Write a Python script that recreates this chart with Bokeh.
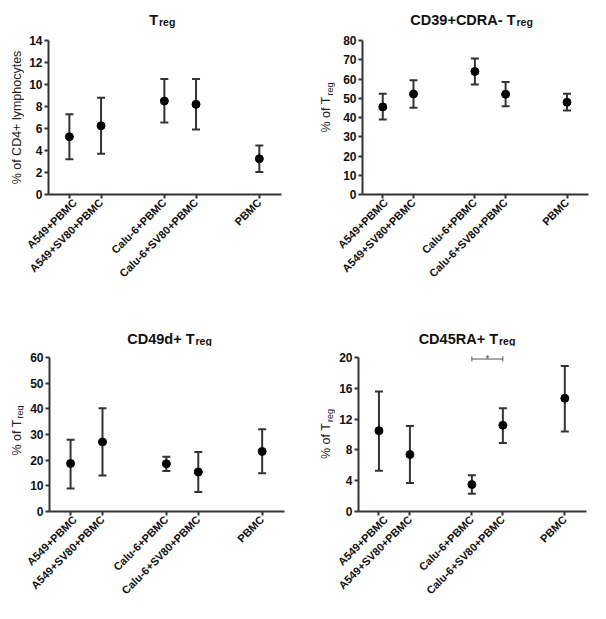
import math
from bokeh.plotting import figure
from bokeh.layouts import row, column
from bokeh.models import Range1d, FixedTicker, Whisker, TeeHead, ColumnDataSource
from bokeh.core.properties import value
from bokeh.embed import file_html
from bokeh.resources import INLINE

# ---------------- data ----------------
categories = ["A549+PBMC", "A549+SV80+PBMC", "Calu-6+PBMC", "Calu-6+SV80+PBMC", "PBMC"]
x_positions = [0, 1, 3, 4, 6]

treg_mean = [5.25, 6.25, 8.5, 8.2, 3.25]
treg_upper = [7.3, 8.8, 10.5, 10.5, 4.45]
treg_lower = [3.2, 3.7, 6.55, 5.9, 2.05]
treg_yticks = [0, 2, 4, 6, 8, 10, 12, 14]

cd39_mean = [45.5, 52.2, 63.9, 52.1, 47.9]
cd39_upper = [52.3, 59.4, 70.7, 58.4, 52.4]
cd39_lower = [38.9, 45.1, 57.2, 45.9, 43.7]
cd39_yticks = [0, 10, 20, 30, 40, 50, 60, 70, 80]

cd49d_mean = [18.7, 27.1, 18.6, 15.4, 23.4]
cd49d_upper = [28.0, 40.2, 21.3, 23.2, 32.0]
cd49d_lower = [9.0, 14.0, 15.8, 7.6, 14.9]
cd49d_yticks = [0, 10, 20, 30, 40, 50, 60]

cd45_mean = [10.5, 7.4, 3.5, 11.2, 14.7]
cd45_upper = [15.6, 11.1, 4.7, 13.4, 18.9]
cd45_lower = [5.3, 3.7, 2.3, 8.9, 10.4]
cd45_yticks = [0, 4, 8, 12, 16, 20]

sig_pair = [3, 4]          # Calu-6+PBMC vs Calu-6+SV80+PBMC
sig_level = 19.8
sig_text = "*"

FONT = "Liberation Sans"
AX = "#333333"
TXT = "#111111"


def blank(width, height, y_range=None, top=0, bottom=0):
    f = figure(width=width, height=height, output_backend="svg", toolbar_location=None,
               x_range=Range1d(0, width),
               y_range=y_range if y_range is not None else Range1d(0, height),
               x_axis_location=None, y_axis_location=None, min_border=0,
               min_border_top=top, min_border_bottom=bottom, title=None)
    f.outline_line_color = None
    f.grid.visible = False
    f.background_fill_color = "white"
    f.border_fill_color = "white"
    return f


def panel(cfg, mean, upper, lower, yticks, y_top=None):
    W, H, T, L = cfg["W"], cfg["H"], cfg["T"], cfg["L"]
    left, right, top, bottom = cfg["left"], cfg["right"], cfg["top"], cfg["bottom"]
    x0, x1 = -0.66, 6.7
    ytop = y_top if y_top is not None else yticks[-1]
    bodyH = H - T
    p = figure(width=W - L, height=bodyH, output_backend="svg", toolbar_location=None,
               x_range=Range1d(x0, x1), y_range=Range1d(yticks[0], ytop),
               min_border_left=left, min_border_right=right,
               min_border_top=top, min_border_bottom=bottom, title=None)
    p.outline_line_color = None
    p.grid.visible = False
    p.background_fill_color = "white"
    p.border_fill_color = "white"

    src = ColumnDataSource(dict(x=x_positions, mean=mean, upper=upper, lower=lower))
    p.add_layout(Whisker(source=src, base="x", upper="upper", lower="lower", dimension="height",
                         line_color=AX, line_width=2,
                         upper_head=TeeHead(size=8, line_color=AX, line_width=2),
                         lower_head=TeeHead(size=8, line_color=AX, line_width=2)))
    p.scatter("x", "mean", source=src, size=8, color="black")

    p.xaxis.ticker = FixedTicker(ticks=x_positions)
    p.xaxis.major_label_overrides = {x: c for x, c in zip(x_positions, categories)}
    p.xaxis.major_label_orientation = math.pi / 4
    p.xaxis.major_label_text_font_size = "11px"
    p.xaxis.major_label_standoff = 2
    p.yaxis.ticker = FixedTicker(ticks=yticks)
    p.yaxis.bounds = (yticks[0], yticks[-1])
    p.yaxis.major_label_text_font_size = "12px"
    p.yaxis.major_label_standoff = 2
    for ax in (p.xaxis[0], p.yaxis[0]):
        ax.axis_line_color = AX
        ax.axis_line_width = 2
        ax.major_tick_line_color = AX
        ax.major_tick_line_width = 2
        ax.major_tick_out = 4
        ax.major_tick_in = 0
        ax.minor_tick_out = 0
        ax.minor_tick_in = 0
        ax.major_label_text_font = FONT
        ax.major_label_text_font_style = "bold"
        ax.major_label_text_color = TXT

    # ---- title strip (main text + subscript) ----
    t = blank(W, T)
    frame_w = W - L - left - right
    split = L + left + frame_w / 2 + cfg["title_split"]
    t.text(x=[split], y=[cfg["title_base"]], text=[cfg["title"]],
           text_font=value(FONT), text_font_style="bold", text_font_size="14.5px",
           text_align="right", text_baseline="alphabetic", text_color=TXT)
    t.text(x=[split + 1], y=[cfg["title_base"] - 2.5], text=[cfg["title_sub"]],
           text_font=value(FONT), text_font_style="bold", text_font_size="10.5px",
           text_align="left", text_baseline="alphabetic", text_color=TXT)

    # ---- y label strip (rotated), sharing the panel's y range ----
    yl = blank(L, bodyH, y_range=p.y_range, top=top, bottom=bottom)
    frame_h = bodyH - top - bottom
    upp = (ytop - yticks[0]) / frame_h
    yc = (yticks[0] + yticks[-1]) / 2
    if cfg["ylab_sub"]:
        ys = yc + cfg["ylab_split"] * upp
        yl.text(x=[cfg["ylab_x"]], y=[ys], text=[cfg["ylab"]], angle=math.pi / 2,
                text_font=value(FONT), text_font_size="12.5px",
                text_align="right", text_baseline="alphabetic", text_color="#222222")
        yl.text(x=[cfg["ylab_x"] + 3.5], y=[ys + upp], text=[cfg["ylab_sub"]], angle=math.pi / 2,
                text_font=value(FONT), text_font_size="9px",
                text_align="left", text_baseline="alphabetic", text_color="#222222")
    else:
        yl.text(x=[cfg["ylab_x"]], y=[yc], text=[cfg["ylab"]], angle=math.pi / 2,
                text_font=value(FONT), text_font_size="12.5px",
                text_align="center", text_baseline="alphabetic", text_color="#222222")

    return p, column(t, row(yl, p))


cfg1 = dict(W=303, H=310, T=28, L=24, left=24, right=22, top=12, bottom=116,
            title="T", title_sub="reg", title_split=-7, title_base=9,
            ylab="% of CD4+ lymphocytes", ylab_sub=None, ylab_x=16, ylab_split=0)
cfg2 = dict(W=287, H=310, T=28, L=32, left=27, right=2, top=12, bottom=116,
            title="CD39+CDRA- T", title_sub="reg", title_split=40, title_base=9,
            ylab="% of T", ylab_sub="reg", ylab_x=22.5, ylab_split=21)
cfg3 = dict(W=303, H=293, T=36, L=24, left=25, right=19, top=11, bottom=92,
            title="CD49d+ T", title_sub="reg", title_split=27.5, title_base=7.7,
            ylab="% of T", ylab_sub="reg", ylab_x=16, ylab_split=15)
cfg4 = dict(W=287, H=293, T=36, L=32, left=23, right=4, top=2, bottom=92,
            title="CD45RA+ T", title_sub="reg", title_split=25.5, title_base=7.7,
            ylab="% of T", ylab_sub="reg", ylab_x=22.5, ylab_split=11.5)

p1, c1 = panel(cfg1, treg_mean, treg_upper, treg_lower, treg_yticks)
p2, c2 = panel(cfg2, cd39_mean, cd39_upper, cd39_lower, cd39_yticks)
p3, c3 = panel(cfg3, cd49d_mean, cd49d_upper, cd49d_lower, cd49d_yticks)
p4, c4 = panel(cfg4, cd45_mean, cd45_upper, cd45_lower, cd45_yticks,
               y_top=cd45_yticks[-1] * (1 + 9 / 154))

# significance bracket in CD45RA+ panel
sig_src = ColumnDataSource(dict(base=[sig_level], lo=[sig_pair[0]], hi=[sig_pair[1]],
                                xm=[sum(sig_pair) / 2], txt=[sig_text]))
p4.add_layout(Whisker(source=sig_src, base="base", lower="lo", upper="hi", dimension="width",
                      line_color="#555555", line_width=1,
                      lower_head=TeeHead(size=5, line_color="#555555", line_width=1),
                      upper_head=TeeHead(size=5, line_color="#555555", line_width=1)))
p4.text(x="xm", y="base", text="txt", source=sig_src, text_font=value(FONT),
        text_font_size="10px", text_align="center", text_baseline="alphabetic",
        text_color="#555555")

layout = column(row(c1, c2), row(c3, c4))

open("out.html", "w").write(file_html(layout, INLINE))
